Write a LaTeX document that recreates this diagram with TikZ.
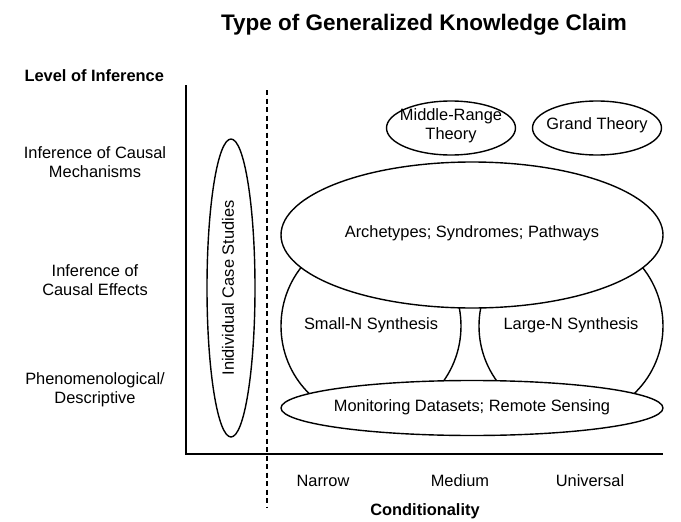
\documentclass[tikz,border=0pt]{standalone}
\usepackage{fontspec}
\setmainfont{Liberation Sans}
\tikzset{blob/.style={draw, line width=1.4pt, fill=white}}
\begin{document}
\begin{tikzpicture}[x=1pt,y=-1pt,font=\fontsize{16.4}{19}\selectfont]
\useasboundingbox (0,0) rectangle (681,522);
% axes, px coordinates with y downwards
\draw[line width=1.5pt] (186,85) |- (663,454);
\draw[line width=1.3pt, dash pattern=on 5pt off 3.5pt] (267,90) -- (267,508);
\node[font=\bfseries\fontsize{22.5}{26}\selectfont] (title) at (424,25) {Type of Generalized Knowledge Claim};
\node[font=\bfseries\fontsize{16.4}{19}\selectfont, anchor=west] (yaxis) at (21,76) {Level of Inference};
\node[font=\bfseries\fontsize{16.4}{19}\selectfont] (xaxis) at (425,511) {Conditionality};
\foreach \y/\t/\n in {162/{Inference of Causal\\Mechanisms}/mech,280/{Inference of\\Causal Effects}/eff,390/{Phenomenological/\\Descriptive}/phen}
  \node[align=center] (\n) at (95,\y) {\t};
\foreach \x/\t in {323/Narrow,460/Medium,590/Universal}
  \node (\t) at (\x,481) {\t};
% knowledge claims: ellipses first, texts on top
\draw[blob] (231,288) ellipse (24 and 149);
\draw[blob] (451,128) ellipse (64.5 and 27);
\draw[blob] (597,128) ellipse (64.5 and 27);
\draw[blob] (371,326) ellipse (90 and 93);
\draw[blob] (571,326) ellipse (92 and 93);
\draw[blob] (472,235) ellipse (191 and 73);
\draw[blob] (472,408) ellipse (191 and 27.5);
\node[rotate=90] (cases) at (228,288) {Inidividual Case Studies};
\node[align=center] (midrange) at (451,126) {Middle-Range\\Theory};
\node (grand) at (597,125) {Grand Theory};
\node (smalln) at (371,325) {Small-N Synthesis};
\node (largen) at (571,325) {Large-N Synthesis};
\node (arch) at (472,233) {Archetypes; Syndromes; Pathways};
\node (monit) at (472,407) {Monitoring Datasets; Remote Sensing};
\end{tikzpicture}
\end{document}
